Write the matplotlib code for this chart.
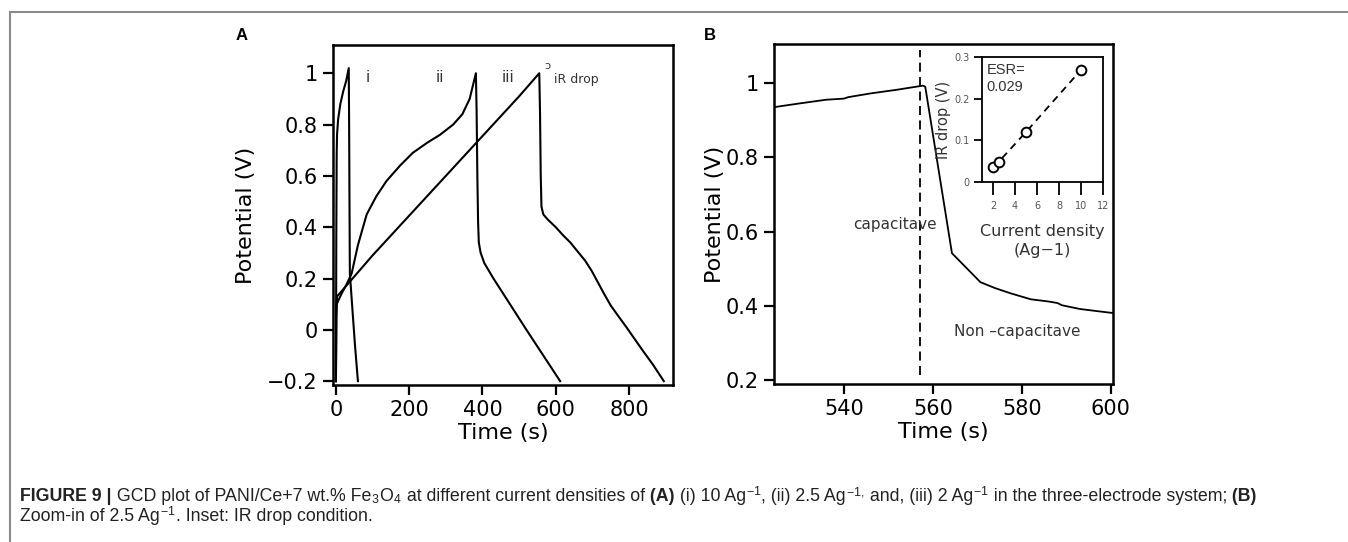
import matplotlib
matplotlib.use("Agg")
import matplotlib.pyplot as plt
from matplotlib.lines import Line2D
from matplotlib.ticker import FuncFormatter

# ---- data ----
# panel A, GCD curves (time s, potential V)
t_i = [0, 1, 2, 3, 6, 12, 20, 28, 35, 36, 37, 38, 45, 52, 60]
v_i = [-0.2, 0.35, 0.68, 0.76, 0.82, 0.88, 0.93, 0.97, 1.02, 0.8, 0.5, 0.22, 0.08, -0.06, -0.2]

t_ii = [0, 1, 2, 15, 30, 43, 60, 84, 110, 138, 175, 210, 250, 284, 320, 345, 365, 382,
        384, 386, 388, 390, 395, 405, 430, 520, 612]
v_ii = [-0.2, 0.05, 0.1, 0.14, 0.18, 0.22, 0.33, 0.45, 0.52, 0.58, 0.64, 0.69, 0.73, 0.76,
        0.80, 0.84, 0.90, 1.0, 0.85, 0.6, 0.42, 0.34, 0.3, 0.26, 0.2, 0.0, -0.2]

t_iii = [0, 1, 3, 100, 200, 300, 400, 500, 555, 557, 559, 561, 566, 578, 600, 619, 640,
         657, 680, 698, 715, 732, 750, 770, 793, 815, 837, 865, 895]
v_iii = [-0.2, 0.06, 0.13, 0.29, 0.445, 0.6, 0.755, 0.91, 1.0, 0.85, 0.6, 0.48, 0.45, 0.43,
         0.4, 0.37, 0.34, 0.31, 0.27, 0.23, 0.185, 0.14, 0.095, 0.055, 0.01, -0.035, -0.08,
         -0.135, -0.2]

# panel B, zoom of the 2.5 A/g curve
t_zoom = [524.3, 530, 536, 540, 541, 546, 552, 557.8, 558.3, 564.3, 570.7, 574, 577.5,
          582, 586, 588, 589, 593, 597, 600.5]
v_zoom = [0.935, 0.945, 0.955, 0.958, 0.962, 0.972, 0.982, 0.993, 0.99, 0.542, 0.464,
          0.448, 0.434, 0.418, 0.412, 0.408, 0.402, 0.392, 0.386, 0.381]
t_split = 557.1

# inset, IR drop vs current density
current_density = [2, 2.5, 5, 10]
ir_drop = [0.036, 0.048, 0.12, 0.269]

plt.rcParams["font.family"] = ["DejaVu Sans"]
plt.rcParams["mathtext.fontset"] = "custom"
plt.rcParams["mathtext.rm"] = "Liberation Sans"
plt.rcParams["mathtext.it"] = "Liberation Sans:italic"
plt.rcParams["mathtext.bf"] = "Liberation Sans:bold"

W, H = 1348, 542
fig = plt.figure(figsize=(W / 100, H / 100), dpi=100)


def px_axes(l, t, r, b):
    return fig.add_axes([l / W, 1 - b / H, (r - l) / W, (b - t) / H])


def style_main(ax):
    for s in ax.spines.values():
        s.set_linewidth(1.8)
    ax.tick_params(direction="out", length=7, width=1.6, labelsize=15, pad=4,
                   top=False, right=False, colors="black")
    ax.yaxis.set_major_formatter(FuncFormatter(lambda v, p: f"{v:g}".replace("-", "\u2212")))


# ---- panel A ----
axA = px_axes(333, 45, 673, 385)
for t, v in [(t_i, v_i), (t_ii, v_ii), (t_iii, v_iii)]:
    axA.plot(t, v, color="black", lw=1.5)
axA.set_xlim(-8, 920)
axA.set_ylim(-0.215, 1.11)
axA.set_xticks([0, 200, 400, 600, 800])
axA.set_yticks([-0.2, 0, 0.2, 0.4, 0.6, 0.8, 1.0])
style_main(axA)
axA.set_xlabel("Time (s)", fontsize=16, labelpad=2)
axA.set_ylabel("Potential (V)", fontsize=16, labelpad=8)
axA.text(87, 0.985, "i", fontsize=11, ha="center", va="center", color="#333")
axA.text(284, 0.985, "ii", fontsize=11, ha="center", va="center", color="#333")
axA.text(469, 0.985, "iii", fontsize=11, ha="center", va="center", color="#333")
axA.text(578, 1.03, "\u2184", fontsize=8, ha="center", va="center", color="#333")
axA.text(595, 0.975, "iR drop", fontsize=9, ha="left", va="center", color="#333")

# ---- panel B ----
axB = px_axes(774, 44, 1113, 384)
axB.plot(t_zoom, v_zoom, color="black", lw=1.3)
axB.vlines(t_split, 0.215, 1.09, colors="black", linestyles=(0, (5, 3)), lw=1.3)
axB.set_xlim(524.3, 600.5)
axB.set_ylim(0.19, 1.105)
axB.set_xticks([540, 560, 580, 600])
axB.set_yticks([0.2, 0.4, 0.6, 0.8, 1.0])
style_main(axB)
axB.set_xlabel("Time (s)", fontsize=16, labelpad=2)
axB.set_ylabel("Potential (V)", fontsize=16, labelpad=0)
axB.text(551.5, 0.62, "capacitave", fontsize=11, ha="center", va="center", color="#333")
axB.text(578.9, 0.33, "Non \u2013capacitave", fontsize=11, ha="center", va="center", color="#333")

# ---- inset ----
axI = px_axes(982, 57, 1103, 182)
axI.plot(current_density, ir_drop, color="black", lw=1.3, ls=(0, (4, 3)),
         marker="o", ms=7, mfc="white", mec="black", mew=1.4)
axI.set_xlim(1, 12)
axI.set_ylim(0, 0.3)
axI.set_xticks([2, 4, 6, 8, 10, 12])
axI.set_yticks([0, 0.1, 0.2, 0.3])
axI.yaxis.set_major_formatter(FuncFormatter(lambda v, p: f"{v:g}"))
for s in axI.spines.values():
    s.set_linewidth(1.3)
axI.tick_params(axis="y", direction="out", length=6, width=1.3, labelsize=7, pad=3,
                right=False, labelcolor="#555")
axI.tick_params(axis="x", direction="out", length=9, width=1.3, labelsize=7, pad=5,
                top=False, labelcolor="#555")
axI.set_ylabel("IR drop (V)", fontsize=10.5, labelpad=2, color="#333")
axI.set_xlabel("Current density\n(Ag\u22121)", fontsize=11.5, labelpad=9,
               color="#333", linespacing=1.3)
axI.text(0.04, 0.95, "ESR=\n0.029", transform=axI.transAxes, fontsize=10.5,
         ha="left", va="top", color="#333", family="Liberation Sans", linespacing=1.25)

# ---- panel letters ----
fig.text(242 / W, 1 - 36 / H, "A", fontsize=12, fontweight="bold",
         family="Liberation Sans", ha="center", va="center")
fig.text(710 / W, 1 - 36 / H, "B", fontsize=12, fontweight="bold",
         family="Liberation Sans", ha="center", va="center")

# ---- page border (top and left only) ----
fig.add_artist(Line2D([10 / W, 1], [1 - 12 / H, 1 - 12 / H], color="#8a8a8a", lw=1.5,
                      transform=fig.transFigure))
fig.add_artist(Line2D([10 / W, 10 / W], [0, 1 - 12 / H], color="#8a8a8a", lw=1.5,
                      transform=fig.transFigure))

# ---- caption, pieces placed one after another ----
renderer = fig.canvas.get_renderer()
cap_size = 12.8


def put_line(pieces, x0, y0):
    x = x0
    for txt, bold in pieces:
        t = fig.text(x / W, 1 - y0 / H, txt, fontsize=cap_size, family="Liberation Sans",
                     fontweight="bold" if bold else "normal", color="#222",
                     ha="left", va="baseline")
        bb = t.get_window_extent(renderer)
        x += bb.width


sup = "$^{-1}$"
line1 = [("FIGURE 9 |", True),
         (" GCD plot of PANI/Ce+7 wt.% Fe", False), ("$_3$", False), ("O", False),
         ("$_4$", False), (" at different current densities of", False),
         (" (A)", True),
         (" (i) 10 Ag", False), (sup, False), (", (ii) 2.5 Ag", False), ("$^{-1,}$", False),
         (" and, (iii) 2 Ag", False), (sup, False), (" in the three-electrode system;", False),
         (" (B)", True)]
line2 = [("Zoom-in of 2.5 Ag", False), (sup, False), (". Inset: IR drop condition.", False)]
put_line(line1, 20, 501)
put_line(line2, 20, 521)

fig.savefig("out.png", dpi=100)
